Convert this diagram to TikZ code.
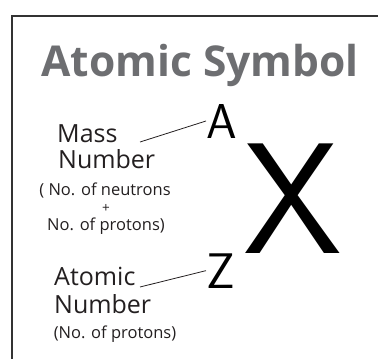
\documentclass[tikz,border=0pt]{standalone}
\usepackage{fontspec}
\setmainfont{Open Sans}
\usetikzlibrary{positioning}
\definecolor{mygray}{RGB}{109,110,113}
\definecolor{myink}{RGB}{35,31,32}
\definecolor{myframe}{RGB}{51,51,51}
\tikzset{
  title/.style={font=\fontsize{42.5}{42.5}\selectfont\bfseries, text=mygray, inner sep=0pt},
  biglabel/.style={font=\fontsize{25}{25}\selectfont, text=myink, inner sep=0pt},
  note/.style={font=\fontsize{16.5}{17}\selectfont, text=myink, inner sep=0pt},
  symbol/.style={font=\sffamily, text=black, inner sep=0pt},
  leader/.style={line width=0.8pt, color=myink},
  frame/.style={line width=2pt, color=myframe}
}

\begin{document}
\begin{tikzpicture}[x=1pt, y=-1pt]
  \clip (0,0) rectangle (378,359);
  \draw[frame] (12,380) -- (12,16) -- (400,16);
  \node[title, anchor=base] (title) at (200,76) {Atomic Symbol};
  % mass number
  \node[biglabel, anchor=base west] (mass) at (57,142) {Mass};
  \node[biglabel, anchor=base west] (massnum) at (58,168) {Number};
  \node[note, anchor=base] (neutrons) at (105,195) {( No. of neutrons};
  \node[note, font=\fontsize{13.5}{13.5}\selectfont, anchor=base] (plus) at (106,212) {+};
  \node[note, anchor=base] (protons) at (106,230) {No. of protons)};
  % atomic number
  \node[biglabel, anchor=base west] (atomic) at (54,285) {Atomic};
  \node[biglabel, anchor=base west] (atomicnum) at (54,313) {Number};
  \node[note, anchor=base] (zprotons) at (115,338) {(No. of protons)};
  % symbols
  \node[symbol, font=\sffamily\fontsize{49}{49}\selectfont, anchor=base west] (symA) at (206,138) {A};
  \node[symbol, font=\sffamily\fontsize{50}{50}\selectfont, anchor=base west] (symZ) at (206,288) {Z};
  \node[symbol, font=\sffamily\fontsize{158}{158}\selectfont, anchor=base west] (symX) at (243,253) {X};
  \coordinate (massend) at (140,142);
  \coordinate (atomicend) at (140,287);
  \draw[leader] (massend) -- (symA.west);
  \draw[leader] (atomicend) -- (symZ.west);
\end{tikzpicture}
\end{document}
